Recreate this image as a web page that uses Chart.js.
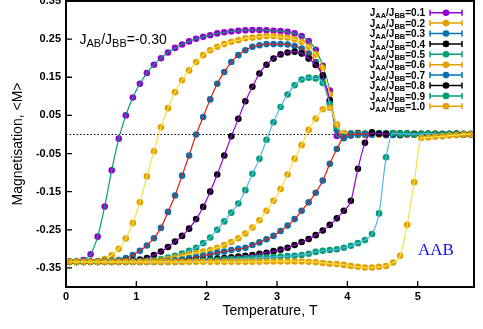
<!DOCTYPE html>
<html>
<head>
<meta charset="utf-8">
<script src="https://cdn.jsdelivr.net/npm/chart.js@4.4.0/dist/chart.umd.min.js"></script>
<style>
  html, body { margin: 0; padding: 0; background: #fff; overflow: hidden; }
  #chart { position: absolute; left: 0; top: -6px; }
</style>
</head>
<body>
<canvas id="chart" width="483" height="335"></canvas>
<script>
// temperatures of the Monte Carlo samples
const temps = [
  0.05, 0.15, 0.25, 0.35, 0.45, 0.55, 0.65, 0.75, 0.85, 0.95,
  1.05, 1.15, 1.25, 1.35, 1.45, 1.55, 1.65, 1.75, 1.85, 1.95,
  2.05, 2.15, 2.25, 2.35, 2.45, 2.55, 2.65, 2.75, 2.85, 2.95,
  3.05, 3.15, 3.25, 3.35, 3.45, 3.55, 3.65, 3.75, 3.85, 3.95,
  4.05, 4.15, 4.25, 4.35, 4.45, 4.55, 4.65, 4.75, 4.85, 4.95,
  5.05, 5.15, 5.25, 5.35, 5.45, 5.55, 5.65, 5.75
];

const ratios = ['0.1', '0.2', '0.3', '0.4', '0.5', '0.6', '0.7', '0.8', '0.9', '1.0'];

const m01 = [
  -0.334, -0.333, -0.329, -0.314, -0.268, -0.189, -0.094, -0.011, 0.050, 0.097,
  0.133, 0.161, 0.183, 0.200, 0.215, 0.227, 0.236, 0.244, 0.251, 0.256,
  0.260, 0.265, 0.268, 0.270, 0.272, 0.273, 0.274, 0.274, 0.273, 0.272,
  0.271, 0.269, 0.265, 0.258, 0.245, 0.222, 0.180, 0.115, -0.004, -0.008,
  -0.003, 0.002, -0.001, 0.003, 0.001, -0.002, 0.002, 0.000, -0.001, 0.002,
  0.001, -0.001, 0.002, 0.000, 0.001, -0.001, 0.001, 0.000
];
const m02 = [
  -0.334, -0.334, -0.334, -0.333, -0.331, -0.327, -0.317, -0.300, -0.273, -0.232,
  -0.178, -0.110, -0.044, 0.019, 0.069, 0.111, 0.142, 0.168, 0.190, 0.208,
  0.221, 0.230, 0.237, 0.243, 0.247, 0.252, 0.254, 0.256, 0.258, 0.258,
  0.256, 0.254, 0.250, 0.243, 0.230, 0.210, 0.175, 0.105, 0.025, 0.003,
  0.001, -0.002, 0.003, 0.000, -0.001, 0.002, 0.001, -0.002, 0.000, 0.001,
  0.002, 0.000, -0.001, 0.001, 0.000, 0.002, -0.001, 0.001
];
const m03 = [
  -0.334, -0.334, -0.334, -0.334, -0.333, -0.332, -0.331, -0.329, -0.324, -0.316,
  -0.305, -0.291, -0.272, -0.245, -0.203, -0.160, -0.108, -0.055, 0.000, 0.046,
  0.092, 0.133, 0.164, 0.190, 0.208, 0.221, 0.230, 0.234, 0.237, 0.237,
  0.237, 0.236, 0.232, 0.225, 0.212, 0.190, 0.150, 0.085, 0.012, -0.010,
  -0.002, 0.003, 0.001, -0.001, 0.002, 0.004, 0.001, -0.002, 0.001, 0.000,
  -0.001, 0.002, 0.001, 0.000, -0.001, 0.001, 0.002, 0.000
];
const m04 = [
  -0.334, -0.334, -0.334, -0.334, -0.334, -0.334, -0.333, -0.333, -0.332, -0.330,
  -0.328, -0.324, -0.316, -0.307, -0.295, -0.281, -0.266, -0.247, -0.222, -0.190,
  -0.150, -0.105, -0.055, -0.005, 0.041, 0.087, 0.125, 0.160, 0.183, 0.199,
  0.210, 0.215, 0.217, 0.212, 0.199, 0.182, 0.155, 0.090, 0.020, 0.002,
  0.001, 0.004, 0.000, 0.006, 0.002, 0.001, -0.001, 0.003, 0.002, 0.000,
  0.001, -0.001, 0.002, 0.000, 0.001, 0.002, 0.000, 0.001
];
const m05 = [
  -0.334, -0.334, -0.334, -0.334, -0.334, -0.334, -0.334, -0.334, -0.333, -0.333,
  -0.332, -0.331, -0.330, -0.327, -0.323, -0.318, -0.312, -0.305, -0.297, -0.285,
  -0.270, -0.250, -0.228, -0.205, -0.181, -0.146, -0.103, -0.064, -0.014, 0.032,
  0.072, 0.105, 0.129, 0.144, 0.149, 0.147, 0.135, 0.080, 0.020, 0.002,
  0.003, 0.000, 0.002, 0.004, 0.003, 0.001, 0.004, 0.002, 0.003, 0.001,
  0.002, 0.000, 0.001, 0.002, 0.001, 0.000, 0.001, 0.000
];
const m06 = [
  -0.334, -0.334, -0.334, -0.334, -0.334, -0.334, -0.334, -0.334, -0.334, -0.334,
  -0.334, -0.333, -0.332, -0.330, -0.327, -0.323, -0.319, -0.315, -0.311, -0.307,
  -0.303, -0.297, -0.290, -0.282, -0.272, -0.260, -0.244, -0.225, -0.200, -0.174,
  -0.143, -0.105, -0.064, -0.028, 0.012, 0.041, 0.066, 0.070, 0.026, 0.004,
  0.001, 0.002, 0.000, 0.003, 0.001, 0.002, 0.004, 0.001, 0.000, 0.002,
  0.001, 0.000, 0.002, 0.001, 0.000, 0.001, 0.002, 0.001
];
const m07 = [
  -0.334, -0.334, -0.334, -0.334, -0.334, -0.334, -0.334, -0.334, -0.334, -0.334,
  -0.334, -0.334, -0.334, -0.333, -0.332, -0.330, -0.328, -0.325, -0.322, -0.318,
  -0.315, -0.310, -0.307, -0.303, -0.300, -0.297, -0.290, -0.283, -0.275, -0.266,
  -0.253, -0.239, -0.222, -0.200, -0.178, -0.153, -0.121, -0.077, -0.038, -0.006,
  0.001, 0.000, 0.002, 0.001, 0.003, 0.001, 0.000, 0.002, 0.001, 0.000,
  0.002, 0.001, 0.000, 0.001, 0.002, 0.000, 0.001, 0.001
];
const m08 = [
  -0.334, -0.334, -0.334, -0.334, -0.334, -0.334, -0.334, -0.334, -0.334, -0.334,
  -0.334, -0.334, -0.334, -0.334, -0.334, -0.334, -0.333, -0.332, -0.331, -0.330,
  -0.328, -0.326, -0.324, -0.322, -0.320, -0.318, -0.316, -0.313, -0.310, -0.306,
  -0.302, -0.297, -0.290, -0.282, -0.274, -0.264, -0.252, -0.237, -0.220, -0.200,
  -0.174, -0.090, -0.022, 0.004, 0.002, 0.001, 0.003, 0.000, 0.002, 0.001,
  0.000, 0.002, 0.001, 0.000, 0.001, 0.002, 0.000, 0.001
];
const m09 = [
  -0.334, -0.334, -0.334, -0.334, -0.334, -0.334, -0.334, -0.334, -0.334, -0.334,
  -0.334, -0.334, -0.334, -0.334, -0.334, -0.334, -0.334, -0.333, -0.332, -0.331,
  -0.330, -0.329, -0.328, -0.327, -0.326, -0.325, -0.324, -0.323, -0.322, -0.321,
  -0.320, -0.319, -0.318, -0.316, -0.313, -0.308, -0.305, -0.303, -0.301, -0.297,
  -0.292, -0.285, -0.277, -0.261, -0.207, -0.060, 0.003, 0.001, 0.002, 0.000,
  0.001, 0.002, 0.001, 0.000, 0.001, 0.001, 0.000, 0.001
];
const m10 = [
  -0.334, -0.334, -0.334, -0.334, -0.334, -0.334, -0.334, -0.334, -0.334, -0.334,
  -0.334, -0.334, -0.334, -0.334, -0.334, -0.334, -0.334, -0.334, -0.334, -0.334,
  -0.334, -0.334, -0.334, -0.334, -0.334, -0.334, -0.334, -0.334, -0.333, -0.333,
  -0.333, -0.333, -0.333, -0.333, -0.334, -0.335, -0.337, -0.339, -0.340, -0.342,
  -0.345, -0.347, -0.349, -0.349, -0.347, -0.345, -0.336, -0.318, -0.237, -0.125,
  -0.009, -0.008, -0.006, -0.005, -0.003, -0.002, 0.000, 0.000
];
const series = [m01, m02, m03, m04, m05, m06, m07, m08, m09, m10];

const xTicks = [0, 1, 2, 3, 4, 5];
const yTicks = [-0.35, -0.25, -0.15, -0.05, 0.05, 0.15, 0.25, 0.35];

// gnuplot palette: marker colour / fitted line colour
const markerColors = ['#9400d3', '#e69f00', '#0072b2', '#000000', '#009e73',
                      '#e69f00', '#0072b2', '#000000', '#009e73', '#e69f00'];
const lineColors = ['#009e73', '#f0e442', '#e51e10', '#9400d3', '#56b4e9',
                    '#f0e442', '#e51e10', '#9400d3', '#56b4e9', '#f0e442'];

const FONT = '"Liberation Sans", Arial, sans-serif';

const datasets = [{
  label: 'zero',
  data: [{x: 0, y: 0}, {x: 5.8, y: 0}],
  showLine: true,
  borderColor: '#000',
  borderWidth: 1,
  borderDash: [1.5, 2],
  pointRadius: 0,
  order: 300
}];
series.forEach((vals, i) => {
  const pts = temps.map((t, k) => ({x: t, y: vals[k]}));
  datasets.push({
    label: 'J_AA/J_BB=' + ratios[i],
    data: pts,
    showLine: false,
    pointRadius: 3.3,
    pointBorderWidth: 0,
    pointBackgroundColor: markerColors[i],
    order: 100 - 2 * i
  });
  datasets.push({
    label: 'fit ' + ratios[i],
    data: pts,
    showLine: true,
    borderColor: lineColors[i],
    borderWidth: 1.2,
    pointRadius: 0,
    cubicInterpolationMode: 'monotone',
    order: 99 - 2 * i
  });
});

function richWidth(ctx, parts, size, subSize, weight) {
  let w = 0;
  for (const [t, sub] of parts) {
    ctx.font = `${weight} ${sub ? subSize : size}px ${FONT}`;
    w += ctx.measureText(t).width;
  }
  return w;
}
function drawRich(ctx, parts, x, y, size, subSize, drop, weight) {
  ctx.textAlign = 'left';
  ctx.textBaseline = 'alphabetic';
  for (const [t, sub] of parts) {
    ctx.font = `${weight} ${sub ? subSize : size}px ${FONT}`;
    ctx.fillText(t, x, sub ? y + drop : y);
    x += ctx.measureText(t).width;
  }
}

const frame = {
  id: 'frame',
  afterDraw(chart) {
    const {ctx, chartArea: a, scales} = chart;
    ctx.save();
    ctx.strokeStyle = '#000';
    // inward ticks
    ctx.lineWidth = 1.3;
    ctx.beginPath();
    scales.y.ticks.forEach(t => {
      const py = scales.y.getPixelForValue(t.value);
      ctx.moveTo(a.left, py); ctx.lineTo(a.left + 6, py);
    });
    scales.x.ticks.forEach(t => {
      const px = scales.x.getPixelForValue(t.value);
      ctx.moveTo(px, a.bottom); ctx.lineTo(px, a.bottom - 6);
    });
    ctx.stroke();
    ctx.lineWidth = 2;
    ctx.strokeRect(a.left, a.top, a.right - a.left, a.bottom - a.top);

    // legend
    ctx.fillStyle = '#000';
    ratios.forEach((r, i) => {
      const yc = 18.7 + 10.4 * i;
      const parts = [['J', 0], ['AA', 1], ['/J', 0], ['BB', 1], ['=' + r, 0]];
      const w = richWidth(ctx, parts, 10, 7.5, 'bold');
      ctx.fillStyle = '#000';
      drawRich(ctx, parts, 425 - w, yc + 3.6, 10, 7.5, 2, 'bold');
      ctx.strokeStyle = markerColors[i];
      ctx.lineWidth = 1.5;
      ctx.beginPath();
      ctx.moveTo(430, yc); ctx.lineTo(462, yc);
      ctx.moveTo(430, yc - 3); ctx.lineTo(430, yc + 3);
      ctx.moveTo(462, yc - 3); ctx.lineTo(462, yc + 3);
      ctx.stroke();
      ctx.fillStyle = markerColors[i];
      ctx.beginPath();
      ctx.arc(446, yc, 3.3, 0, Math.PI * 2);
      ctx.fill();
    });

    // coupling label
    ctx.fillStyle = '#000';
    drawRich(ctx, [['J', 0], ['AB', 1], ['/J', 0], ['BB', 1], ['=-0.30', 0]], 79.5, 50, 14, 11, 3, 'normal');

    // lattice label
    ctx.fillStyle = '#1010ee';
    ctx.font = '17px "Liberation Serif", "Times New Roman", serif';
    ctx.textAlign = 'left';
    ctx.fillText('AAB', 418, 261);
    ctx.restore();
  }
};

new Chart(document.getElementById('chart'), {
  type: 'scatter',
  data: {datasets},
  options: {
    responsive: false,
    animation: false,
    events: [],
    layout: {padding: {left: 0, right: 9, top: 7, bottom: 0}},
    plugins: {legend: {display: false}, tooltip: {enabled: false}},
    scales: {
      x: {
        type: 'linear',
        min: 0,
        max: 5.8,
        afterBuildTicks: s => { s.ticks = xTicks.map(v => ({value: v})); },
        afterFit: s => { s.height = 42; s.paddingLeft = 0; s.paddingRight = 0; },
        grid: {display: false, drawTicks: false},
        border: {display: false},
        ticks: {
          color: '#000',
          padding: 3,
          maxRotation: 0,
          font: {family: FONT, size: 11, weight: 'bold'},
          callback: v => String(v)
        },
        title: {
          display: true,
          text: 'Temperature, T',
          color: '#000',
          font: {family: FONT, size: 14},
          padding: {top: 0, bottom: 9}
        }
      },
      y: {
        type: 'linear',
        min: -0.40,
        max: 0.35,
        afterBuildTicks: s => { s.ticks = yTicks.map(v => ({value: v})); },
        afterFit: s => { s.width = 66; s.paddingTop = 0; s.paddingBottom = 0; },
        grid: {display: false, drawTicks: false},
        border: {display: false},
        ticks: {
          color: '#000',
          padding: 5,
          font: {family: FONT, size: 11, weight: 'bold'},
          callback: v => v.toFixed(2)
        },
        title: {
          display: true,
          text: 'Magnetisation, <M>',
          color: '#000',
          font: {family: FONT, size: 14},
          padding: {top: 10, bottom: 0}
        }
      }
    }
  },
  plugins: [frame]
});
</script>
</body>
</html>
